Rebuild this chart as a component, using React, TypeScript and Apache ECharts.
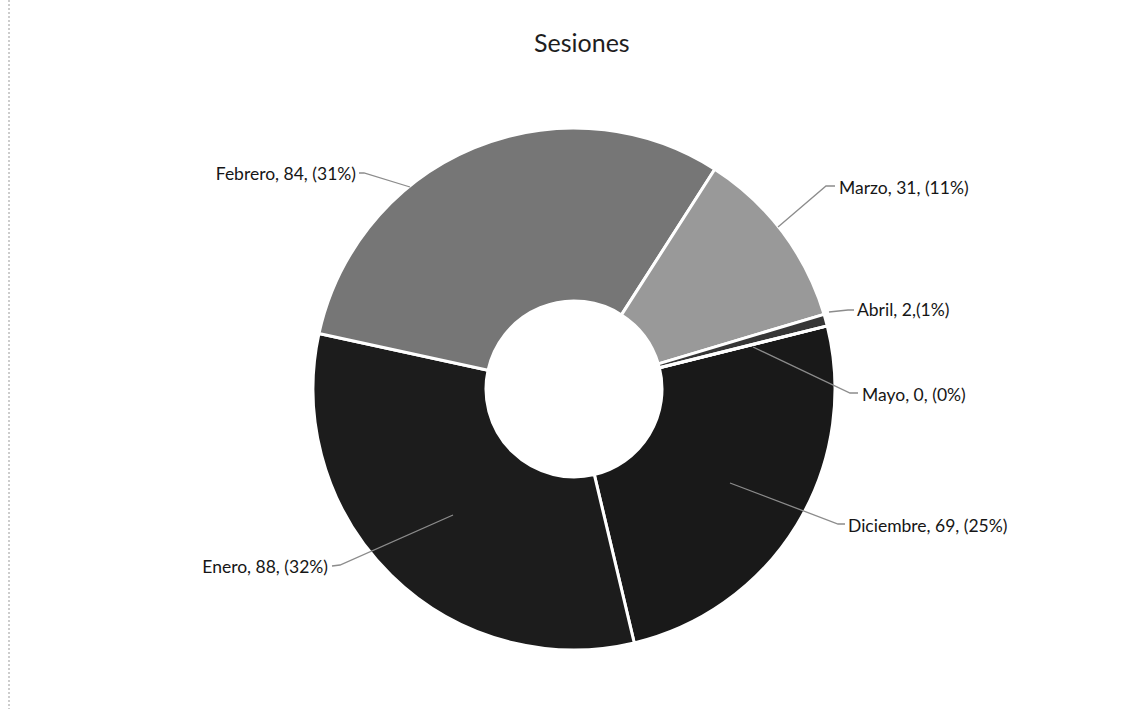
import React, { useEffect, useRef } from 'react';
import * as echarts from 'echarts';

const titleText = 'Sesiones';
const categories = ['Diciembre', 'Enero', 'Febrero', 'Marzo', 'Abril', 'Mayo'];
const values = [69, 88, 84, 31, 2, 0];
const sliceColors = ['#191919', '#1c1c1c', '#767676', '#999999', '#363636', '#555555'];

// label placement (layout only): text anchor and leader-line route
const labelLayouts = [
  { x: 848, y: 525, align: 'left', line: [[730, 483], [838, 524], [845, 524]] },
  { x: 328, y: 566, align: 'right', line: [[453, 515], [340, 565], [332, 566]] },
  { x: 356, y: 173, align: 'right', line: [[410, 187], [364, 173], [359, 173]] },
  { x: 839, y: 187, align: 'left', line: [[778, 227], [826, 186], [835, 186]] },
  { x: 857, y: 309, align: 'left', line: [[829, 312], [848, 310], [854, 310]] },
  { x: 862, y: 394, align: 'left', line: [[753, 347], [850, 393], [858, 393]] },
];

export default function App() {
  const ref = useRef<HTMLDivElement>(null);
  useEffect(() => {
    document.body.style.margin = '0';
    if (!ref.current) return;
    const chart = echarts.init(ref.current, null, { renderer: 'svg' });
    const total = values.reduce((a, b) => a + b, 0);
    const leaderLines = labelLayouts.map((l) => ({
      type: 'polyline',
      z: 100,
      silent: true,
      shape: { points: l.line },
      style: { stroke: '#8c8c8c', lineWidth: 1.3, fill: 'none' },
    }));
    chart.setOption({
      animation: false,
      backgroundColor: '#ffffff',
      title: {
        text: titleText,
        left: 529,
        top: 24,
        textStyle: { fontFamily: 'Lato', fontSize: 25, fontWeight: 'normal', color: '#1e1e1e' },
      },
      graphic: [
        {
          type: 'line',
          shape: { x1: 9, y1: 0, x2: 9, y2: 709 },
          style: { stroke: '#9a9a9a', lineWidth: 1, lineDash: [2, 2] },
          silent: true,
        },
        ...leaderLines,
      ],
      series: [
        {
          type: 'pie',
          center: [574, 389],
          radius: [88, 261],
          startAngle: 14,
          clockwise: true,
          avoidLabelOverlap: false,
          itemStyle: { borderColor: '#ffffff', borderWidth: 3 },
          label: {
            show: true,
            position: 'outside',
            fontFamily: 'Lato',
            fontSize: 17.5,
            color: '#161616',
            formatter: (p: any) => {
              const pct = Math.round((p.value / total) * 100);
              const sep = p.name === 'Abril' ? ',' : ', ';
              return `${p.name}, ${p.value}${sep}(${pct}%)`;
            },
          },
          labelLine: { show: false },
          labelLayout: (params: any) => {
            const l = labelLayouts[params.dataIndex];
            if (!l) return {};
            return {
              x: l.x,
              y: l.y,
              align: l.align,
              verticalAlign: 'middle',
            };
          },
          data: categories.map((name, i) => ({
            name,
            value: values[i],
            itemStyle: { color: sliceColors[i] },
          })),
        },
      ],
    });
    return () => chart.dispose();
  }, []);
  return <div ref={ref} style={{ width: 1129, height: 709 }} />;
}
